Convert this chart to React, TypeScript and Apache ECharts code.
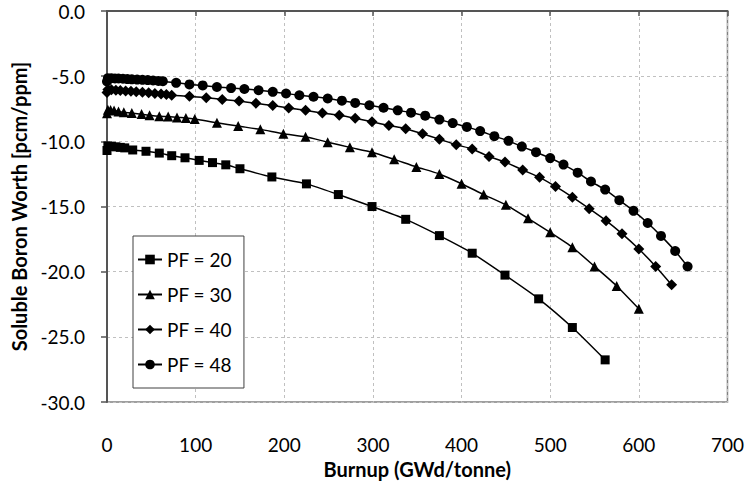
import React, { useEffect, useRef } from "react";
import * as echarts from "echarts";

const xTicks = [0, 100, 200, 300, 400, 500, 600, 700];
const yTicks = [0, -5, -10, -15, -20, -25, -30];

const seriesNames = ["PF = 20", "PF = 30", "PF = 40", "PF = 48"];

const pf20X = [0, 1, 5, 10, 15, 20, 29, 44, 59, 73, 88, 104, 119, 134, 150, 186, 225, 261, 299, 337, 375, 412, 449, 487, 525, 562];
const pf20Y = [-10.7, -10.35, -10.38, -10.42, -10.46, -10.5, -10.66, -10.76, -10.9, -11.1, -11.26, -11.46, -11.63, -11.8, -12.1, -12.73, -13.26, -14.08, -15.0, -15.98, -17.23, -18.58, -20.26, -22.08, -24.28, -26.76];

const pf30X = [0, 1, 4, 8, 13, 19, 28, 39, 48, 59, 69, 79, 89, 99, 124, 148, 173, 199, 224, 249, 274, 299, 324, 349, 375, 400, 425, 450, 475, 500, 525, 550, 575, 600];
const pf30Y = [-7.85, -7.58, -7.6, -7.63, -7.7, -7.76, -7.83, -7.91, -8.0, -8.08, -8.1, -8.16, -8.2, -8.28, -8.58, -8.83, -9.08, -9.41, -9.65, -10.06, -10.46, -10.83, -11.38, -11.96, -12.5, -13.25, -14.08, -14.87, -15.9, -16.98, -18.12, -19.59, -21.09, -22.84];

const pf40X = [0, 1, 5, 10, 15, 21, 27, 33, 40, 47, 54, 61, 67, 73, 93, 112, 130, 149, 168, 187, 205, 224, 243, 262, 280, 299, 318, 337, 356, 375, 394, 412, 431, 449, 469, 488, 506, 525, 544, 563, 581, 600, 619, 637];
const pf40Y = [-6.25, -6.02, -6.05, -6.08, -6.1, -6.13, -6.16, -6.2, -6.24, -6.28, -6.32, -6.36, -6.4, -6.46, -6.53, -6.66, -6.78, -6.91, -7.08, -7.25, -7.44, -7.61, -7.83, -8.0, -8.23, -8.5, -8.78, -9.03, -9.42, -9.83, -10.26, -10.58, -11.16, -11.58, -12.2, -12.76, -13.46, -14.28, -15.16, -16.08, -17.08, -18.26, -19.59, -21.0];

const pf48X = [0, 1, 5, 9, 13, 18, 23, 28, 34, 40, 46, 52, 58, 63, 78, 93, 108, 124, 140, 155, 171, 187, 202, 217, 233, 249, 265, 280, 296, 312, 328, 343, 359, 375, 390, 406, 421, 437, 453, 468, 484, 500, 515, 531, 546, 562, 578, 594, 610, 625, 641, 655];
const pf48Y = [-5.4, -5.15, -5.16, -5.17, -5.18, -5.2, -5.22, -5.24, -5.26, -5.28, -5.3, -5.33, -5.36, -5.38, -5.51, -5.63, -5.71, -5.83, -5.91, -5.98, -6.08, -6.2, -6.33, -6.46, -6.58, -6.71, -6.88, -7.05, -7.23, -7.42, -7.62, -7.8, -8.03, -8.33, -8.6, -8.89, -9.21, -9.6, -9.96, -10.4, -10.83, -11.28, -11.78, -12.4, -13.08, -13.7, -14.51, -15.33, -16.26, -17.25, -18.41, -19.6];

const FONT = "Lato, 'Liberation Sans', sans-serif";

function zip(xs: number[], ys: number[]) {
  return xs.map((x, i) => [x, ys[i]]);
}

export default function App() {
  const ref = useRef<HTMLDivElement>(null);
  useEffect(() => {
    document.body.style.margin = "0";
    const chart = echarts.init(ref.current!, null, { renderer: "svg" });
    const xs = [pf20X, pf30X, pf40X, pf48X];
    const ys = [pf20Y, pf30Y, pf40Y, pf48Y];
    const symbols = ["rect", "triangle", "diamond", "circle"];
    const sizes = [9, 10, 11, 10];
    chart.setOption({
      animation: false,
      backgroundColor: "#ffffff",
      grid: {
        left: 107,
        top: 11,
        right: 18,
        bottom: 73,
        show: true,
        borderColor: "#808080",
        borderWidth: 1.5,
        backgroundColor: "transparent",
      },
      legend: {
        orient: "vertical",
        left: 133,
        top: 236,
        data: seriesNames,
        itemWidth: 24,
        itemHeight: 12,
        itemGap: 12,
        padding: [12, 12, 12, 4],
        borderColor: "#404040",
        borderWidth: 1,
        backgroundColor: "#ffffff",
        textStyle: { fontFamily: FONT, fontSize: 19, color: "#000", lineHeight: 23 },
      },
      xAxis: [
        {
          type: "value",
          min: xTicks[0],
          max: xTicks[xTicks.length - 1],
          interval: 100,
          position: "bottom",
          axisLine: { show: false },
          axisTick: { show: false },
          axisLabel: {
            margin: 33,
            fontFamily: FONT,
            fontSize: 19,
            color: "#000",
          },
          splitLine: {
            show: true,
            lineStyle: { color: "#c0c0c0", type: [3, 3], width: 1 },
          },
          name: "Burnup (GWd/tonne)",
          nameLocation: "middle",
          nameGap: 48,
          nameTextStyle: {
            fontFamily: FONT,
            fontSize: 20,
            fontWeight: "bold",
            color: "#000",
          },
        },
        {
          type: "value",
          min: xTicks[0],
          max: xTicks[xTicks.length - 1],
          interval: 100,
          position: "top",
          axisLine: { show: true, lineStyle: { color: "#555", width: 2 } },
          axisTick: { show: true, inside: true, length: 5, lineStyle: { color: "#555", width: 1.5 } },
          axisLabel: { show: false },
          splitLine: { show: false },
        },
      ],
      yAxis: {
        type: "value",
        min: yTicks[yTicks.length - 1],
        max: yTicks[0],
        interval: 5,
        axisLine: { show: true, onZero: false, lineStyle: { color: "#555", width: 2 } },
        axisTick: { show: true, length: 6, lineStyle: { color: "#555", width: 1.5 } },
        axisLabel: {
          margin: 22,
          fontFamily: FONT,
          fontSize: 19,
          color: "#000",
          formatter: (v: number) => v.toFixed(1),
        },
        splitLine: {
          show: true,
          lineStyle: { color: "#c0c0c0", type: [3, 3], width: 1 },
        },
        name: "Soluble Boron Worth [pcm/ppm]",
        nameLocation: "middle",
        nameGap: 74,
        nameTextStyle: {
          fontFamily: FONT,
          fontSize: 20,
          fontWeight: "bold",
          color: "#000",
        },
      },
      series: seriesNames.map((name, i) => ({
        name,
        type: "line",
        data: zip(xs[i], ys[i]),
        symbol: symbols[i],
        symbolSize: sizes[i],
        smooth: 0.2,
        lineStyle: { color: "#000", width: 1.5 },
        itemStyle: { color: "#000" },
        z: 3,
      })),
    });
    return () => chart.dispose();
  }, []);
  return <div ref={ref} style={{ width: 747, height: 484 }} />;
}
